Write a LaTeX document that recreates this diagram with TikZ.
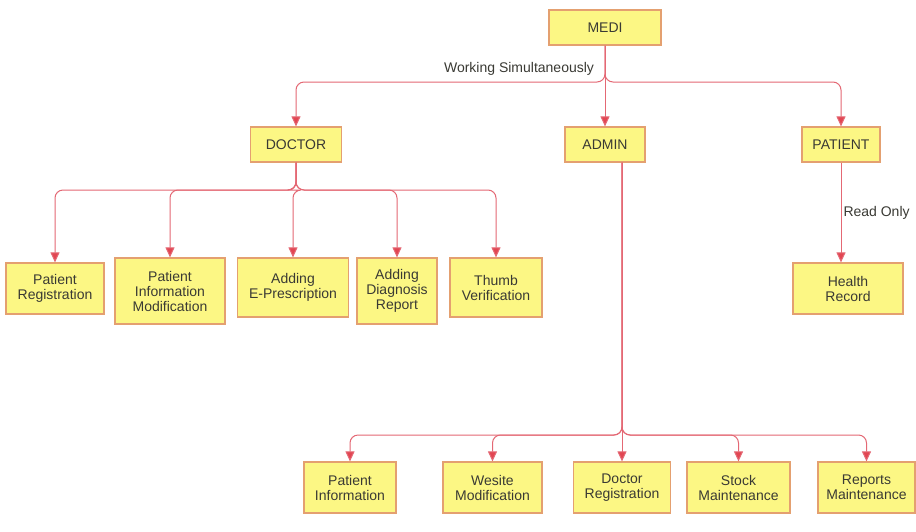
\documentclass[tikz,border=0pt]{standalone}
\usepackage{fontspec}
\setmainfont{Liberation Sans}
\usetikzlibrary{arrows.meta}

\definecolor{boxfill}{RGB}{252,247,132}
\definecolor{boxline}{RGB}{228,160,112}
\definecolor{linkred}{RGB}{228,104,116}
\definecolor{tipred}{RGB}{226,70,82}
\definecolor{txt}{RGB}{58,58,52}

\begin{document}
\begin{tikzpicture}[x=1pt,y=-1pt,>={Triangle[length=10pt,width=9pt,fill=tipred]},
  box/.style={draw=boxline,fill=boxfill,line width=1.2pt,align=center,inner sep=0pt,
    text=txt,font=\fontsize{14}{15}\selectfont},
  link/.style={->,draw=linkred,fill=none,line width=1pt,rounded corners=8pt},
  lbl/.style={text=txt,font=\fontsize{14}{15}\selectfont,inner sep=2pt}]
  \fill[white] (0,0) rectangle (916,531);
  \useasboundingbox (0,0) rectangle (916,531);

  % top level
  \node[box,minimum width=112pt,minimum height=35pt] (medi) at (605,27.5) {MEDI};
  \node[box,minimum width=91pt,minimum height=35pt] (doctor) at (296,144.5) {DOCTOR};
  \node[box,minimum width=80pt,minimum height=35pt] (admin) at (605,144.5) {ADMIN};
  \node[box,minimum width=78pt,minimum height=35pt] (patient) at (841,144.5) {PATIENT};

  % doctor side
  \node[box,minimum width=98pt,minimum height=51pt] (preg) at (55,288.5) {Patient\\Registration};
  \node[box,minimum width=110pt,minimum height=66pt] (pinfo) at (170,291) {Patient\\Information\\Modification};
  \node[box,minimum width=111pt,minimum height=59pt] (epres) at (293,287.5) {Adding\\E-Prescription};
  \node[box,minimum width=80pt,minimum height=66pt] (diag) at (397,291) {Adding\\Diagnosis\\Report};
  \node[box,minimum width=92pt,minimum height=59pt] (thumb) at (496,287.5) {Thumb\\Verification};

  % patient side
  \node[box,minimum width=110pt,minimum height=51pt] (health) at (848,288.5) {Health\\Record};

  % admin side
  \node[box,minimum width=92pt,minimum height=51pt] (pview) at (350,487.5) {Patient\\Information};
  \node[box,minimum width=99pt,minimum height=51pt] (webmod) at (492.5,487.5) {Wesite\\Modification};
  \node[box,minimum width=97pt,minimum height=51pt] (docreg) at (622,487.5) {Doctor\\Registration};
  \node[box,minimum width=103pt,minimum height=51pt] (stock) at (738.5,487.5) {Stock\\Maintenance};
  \node[box,minimum width=97pt,minimum height=51pt] (reports) at (866.5,487.5) {Reports\\Maintenance};

  \coordinate (topsplit) at (605,82);
  \coordinate (docsplit) at (296,190);
  \coordinate (adminsplit) at (622,435);

  \node[lbl] (worklbl) at (519,69) {Working Simultaneously};

  \draw[link] (medi) -- (topsplit) -| (doctor);
  \draw[link] (medi) -- (admin);
  \draw[link] (medi) -- (topsplit) -| (patient);

  \foreach \n in {preg,pinfo,epres,diag,thumb}
    \draw[link] (doctor) -- (docsplit) -| (\n);

  \draw[link] (admin.south -| adminsplit) -- (docreg);
  \foreach \n in {pview,webmod,stock,reports}
    \draw[link] (admin.south -| adminsplit) -- (adminsplit) -| (\n);

  \draw[link] (patient) -- (patient.south |- health.north) node[lbl,midway,right] {Read Only};
\end{tikzpicture}
\end{document}
